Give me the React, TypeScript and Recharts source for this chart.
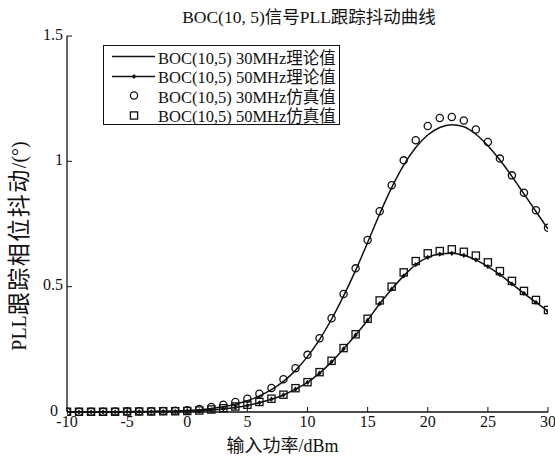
import { ComposedChart, Line, XAxis, YAxis, Label } from 'recharts';

const INK = '#111';
const SERIF = "'Liberation Serif', 'Noto Sans CJK SC', serif";

const power = [-10, -9, -8, -7, -6, -5, -4, -3, -2, -1, 0, 1, 2, 3, 4, 5, 6, 7, 8, 9, 10, 11, 12, 13, 14, 15, 16, 17, 18, 19, 20, 21, 22, 23, 24, 25, 26, 27, 28, 29, 30];

// theory curves
const theory30 = [0, 0, 0, 0.001, 0.001, 0.001, 0.002, 0.002, 0.003, 0.004, 0.006, 0.009, 0.014, 0.021, 0.031, 0.045, 0.064, 0.089, 0.122, 0.166, 0.221, 0.289, 0.37, 0.463, 0.565, 0.676, 0.79, 0.895, 0.985, 1.055, 1.105, 1.135, 1.146, 1.138, 1.108, 1.062, 1.005, 0.94, 0.87, 0.8, 0.73];
const theory50 = [0, 0, 0, 0, 0, 0.001, 0.001, 0.001, 0.002, 0.002, 0.003, 0.005, 0.008, 0.012, 0.018, 0.026, 0.037, 0.051, 0.068, 0.091, 0.118, 0.155, 0.2, 0.252, 0.307, 0.366, 0.432, 0.49, 0.543, 0.588, 0.617, 0.63, 0.633, 0.625, 0.607, 0.58, 0.548, 0.511, 0.473, 0.437, 0.402];

// simulation points
const sim30 = [0.001, 0.001, 0.001, 0.001, 0.002, 0.002, 0.003, 0.003, 0.004, 0.005, 0.007, 0.012, 0.02, 0.029, 0.04, 0.053, 0.073, 0.096, 0.131, 0.175, 0.228, 0.294, 0.374, 0.471, 0.573, 0.686, 0.801, 0.905, 1.004, 1.084, 1.141, 1.173, 1.177, 1.163, 1.127, 1.077, 1.011, 0.944, 0.875, 0.805, 0.735];
const sim50 = [0.001, 0.001, 0.001, 0.001, 0.001, 0.002, 0.002, 0.002, 0.003, 0.003, 0.004, 0.006, 0.01, 0.015, 0.022, 0.029, 0.04, 0.053, 0.069, 0.095, 0.119, 0.159, 0.204, 0.255, 0.31, 0.372, 0.445, 0.5, 0.557, 0.602, 0.633, 0.642, 0.649, 0.639, 0.624, 0.597, 0.562, 0.523, 0.483, 0.447, 0.407];

const xTicks = [-10, -5, 0, 5, 10, 15, 20, 25, 30];
const yTicks = [0, 0.5, 1, 1.5];
const seriesNames = ['BOC(10,5) 30MHz理论值', 'BOC(10,5) 50MHz理论值', 'BOC(10,5) 30MHz仿真值', 'BOC(10,5) 50MHz仿真值'];

const data = power.map((p, i) => ({
  power: p,
  theory30: theory30[i],
  theory50: theory50[i],
  sim30: sim30[i],
  sim50: sim50[i],
}));

const circleDot = (p: any) =>
  p.cx == null ? null : (
    <circle key={`c${p.index}`} cx={p.cx} cy={p.cy} r={3.6} fill="none" stroke={INK} strokeWidth={1.3} />
  );

const squareDot = (p: any) =>
  p.cx == null ? null : (
    <rect key={`s${p.index}`} x={p.cx - 3.6} y={p.cy - 3.6} width={7.2} height={7.2} fill="none" stroke={INK} strokeWidth={1.3} />
  );

const diamondDot = (p: any) =>
  p.cx == null ? null : (
    <polygon
      key={`d${p.index}`}
      points={`${p.cx},${p.cy - 2.6} ${p.cx + 2.2},${p.cy} ${p.cx},${p.cy + 2.6} ${p.cx - 2.2},${p.cy}`}
      fill={INK}
    />
  );

const noTick = () => <g />;

// the "0" label sits a little further left in the original
const yTick = (p: any) => (
  <text
    x={p.payload.value === 0 ? p.x - 5 : p.x}
    y={p.y - 2}
    textAnchor="end"
    dominantBaseline="central"
    fontSize={16}
    fontFamily={SERIF}
    fill={INK}
  >
    {p.payload.value}
  </text>
);

const LegendRow = ({ i }: { i: number }) => (
  <div style={{ display: 'flex', alignItems: 'center', height: 19.5 }}>
    <svg width={52} height={19} style={{ flex: 'none' }}>
      {i < 2 && <line x1={8} y1={9.5} x2={51} y2={9.5} stroke={INK} strokeWidth={1.5} />}
      {i === 1 && <polygon points="30,6.9 32.2,9.5 30,12.1 27.8,9.5" fill={INK} />}
      {i === 2 && <circle cx={30} cy={9.5} r={3.6} fill="none" stroke={INK} strokeWidth={1.3} />}
      {i === 3 && <rect x={26.4} y={5.9} width={7.2} height={7.2} fill="none" stroke={INK} strokeWidth={1.3} />}
    </svg>
    <span style={{ marginLeft: 2, whiteSpace: 'nowrap' }}>{seriesNames[i]}</span>
  </div>
);

export default function App() {
  return (
    <div style={{ position: 'absolute', left: 0, top: 0, width: 555, height: 460, background: '#fff', fontFamily: SERIF, color: INK }}>
      <div style={{ position: 'absolute', left: 0, width: 618, top: 6, textAlign: 'center', fontSize: 17.5, lineHeight: '22px' }}>
        BOC(10, 5)信号PLL跟踪抖动曲线
      </div>
      <ComposedChart width={555} height={460} data={data} margin={{ top: 36, right: 7, bottom: 0, left: 0 }}>
        <XAxis
          dataKey="power"
          type="number"
          domain={[-10, 30]}
          ticks={xTicks}
          allowDataOverflow
          height={48}
          tickSize={-5}
          tickMargin={9}
          interval={0}
          axisLine={{ stroke: INK, strokeWidth: 1.3 }}
          tickLine={{ stroke: INK, strokeWidth: 1 }}
          tick={{ fill: INK, fontSize: 16, fontFamily: SERIF }}
        >
          <Label
            content={(props: any) => {
              const vb = props.viewBox;
              return (
                <text x={vb.x + vb.width / 2 - 25} y={vb.y + 40} textAnchor="middle" fontSize={18} fontFamily={SERIF} fill={INK}>
                  输入功率/dBm
                </text>
              );
            }}
          />
        </XAxis>
        <XAxis
          xAxisId="t"
          dataKey="power"
          type="number"
          orientation="top"
          domain={[-10, 30]}
          ticks={xTicks}
          height={0}
          tickSize={-5}
          interval={0}
          axisLine={{ stroke: INK, strokeWidth: 1.3 }}
          tickLine={{ stroke: INK, strokeWidth: 1 }}
          tick={noTick}
        />
        <YAxis
          type="number"
          domain={[0, 1.5]}
          ticks={yTicks}
          width={67}
          tickSize={-5}
          tickMargin={9}
          interval={0}
          axisLine={{ stroke: INK, strokeWidth: 1.3 }}
          tickLine={{ stroke: INK, strokeWidth: 1 }}
          tick={yTick}
        >
          <Label
            content={(props: any) => {
              const vb = props.viewBox;
              const cx = 19;
              const cy = vb.y + vb.height / 2 + 22;
              return (
                <text x={cx} y={cy} transform={`rotate(-90, ${cx}, ${cy})`} textAnchor="middle" dominantBaseline="central" fontSize={20} fontFamily={SERIF} fill={INK}>
                  <tspan>PLL</tspan>
                  <tspan fontSize={23} letterSpacing={1.5}>跟踪相位抖动</tspan>
                  <tspan>/(°)</tspan>
                </text>
              );
            }}
          />
        </YAxis>
        <YAxis
          yAxisId="r"
          orientation="right"
          type="number"
          domain={[0, 1.5]}
          ticks={yTicks}
          width={0}
          tickSize={-5}
          interval={0}
          axisLine={{ stroke: INK, strokeWidth: 1.3 }}
          tickLine={{ stroke: INK, strokeWidth: 1 }}
          tick={noTick}
        />
        <Line type="monotone" dataKey="theory30" stroke={INK} strokeWidth={1.5} dot={false} isAnimationActive={false} />
        <Line type="monotone" dataKey="theory50" stroke={INK} strokeWidth={1.5} dot={diamondDot} isAnimationActive={false} />
        <Line dataKey="sim30" stroke="none" dot={circleDot} activeDot={false} isAnimationActive={false} />
        <Line dataKey="sim50" stroke="none" dot={squareDot} activeDot={false} isAnimationActive={false} />
      </ComposedChart>
      <div
        style={{
          position: 'absolute',
          left: 103,
          top: 45,
          width: 237,
          height: 80,
          boxSizing: 'border-box',
          border: `1.3px solid ${INK}`,
          background: '#fff',
          fontSize: 16.5,
          padding: '1px 0 0 0',
        }}
      >
        {[0, 1, 2, 3].map((i) => (
          <LegendRow key={i} i={i} />
        ))}
      </div>
    </div>
  );
}
